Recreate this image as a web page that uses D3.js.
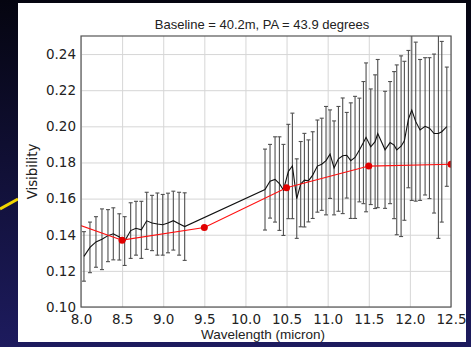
<!DOCTYPE html>
<html>
<head>
<meta charset="utf-8">
<script src="https://cdn.jsdelivr.net/npm/d3@7"></script>
<style>
  body { margin: 0; background: #0b0a22; }
  svg { display: block; }
</style>
</head>
<body>
<script>
// measured visibility spectrum (black line + error bars)
const wavelength = [
  8.036, 8.109, 8.182, 8.255, 8.328, 8.393, 8.466, 8.531, 8.604, 8.669,
  8.734, 8.799, 8.864, 8.929, 8.994, 9.058, 9.123, 9.193, 9.261,
  10.238, 10.299, 10.360, 10.413, 10.462, 10.522, 10.571, 10.624, 10.672, 10.717,
  10.766, 10.818, 10.875, 10.928, 10.980, 11.029, 11.078, 11.131, 11.183, 11.232,
  11.281, 11.333, 11.386, 11.435, 11.467, 11.524, 11.577, 11.609, 11.698, 11.759,
  11.808, 11.840, 11.893, 11.933, 11.982, 12.023, 12.071, 12.124, 12.185, 12.238,
  12.294, 12.347, 12.388, 12.449
];
const visibility = [
  0.128, 0.133, 0.136, 0.1375, 0.1395, 0.1405, 0.1388, 0.1365, 0.1423, 0.1436,
  0.1427, 0.1477, 0.1465, 0.1459, 0.1455, 0.1465, 0.1478, 0.1461, 0.1445,
  0.165, 0.1696, 0.1706, 0.1683, 0.1648, 0.175, 0.1781, 0.160, 0.168, 0.1702,
  0.1698, 0.173, 0.178, 0.179, 0.181, 0.1846, 0.177, 0.182, 0.1837, 0.184,
  0.181, 0.1828, 0.1869, 0.191, 0.1939, 0.1887, 0.1915, 0.196, 0.187, 0.191,
  0.1896, 0.187, 0.189, 0.192, 0.204, 0.209, 0.2026, 0.198, 0.200, 0.199,
  0.196, 0.196, 0.197, 0.1998
];
const visError = [
  0.0137, 0.014, 0.014, 0.0168, 0.0144, 0.0144, 0.0128, 0.0135, 0.0154, 0.0149,
  0.0158, 0.0158, 0.0153, 0.0172, 0.0168, 0.0165, 0.0163, 0.0174, 0.0187,
  0.0224, 0.0204, 0.0236, 0.0259, 0.0252, 0.0261, 0.0292, 0.022, 0.0236, 0.0259,
  0.0227, 0.024, 0.0255, 0.0255, 0.030, 0.0245, 0.026, 0.029, 0.032, 0.0237,
  0.032, 0.0338, 0.0287, 0.0338, 0.0412, 0.032, 0.037, 0.041, 0.0324, 0.0338,
  0.0407, 0.047, 0.050, 0.044, 0.038, 0.050, 0.044, 0.039, 0.038, 0.039,
  0.044, 0.058, 0.050, 0.033
];

// model (red line with dots)
const modelWl = [7.5, 8.5, 9.5, 10.5, 11.5, 12.5];
const modelVis = [0.153, 0.137, 0.144, 0.166, 0.178, 0.179];

const xTicks = [8.0, 8.5, 9.0, 9.5, 10.0, 10.5, 11.0, 11.5, 12.0, 12.5];
const yTicks = [0.10, 0.12, 0.14, 0.16, 0.18, 0.20, 0.22, 0.24];

const title = "Baseline = 40.2m, PA = 43.9 degrees";

function main() {
  const width = 471;
  const height = 347;
  const plot = { left: 81, right: 451, top: 36, bottom: 307 };

  const x = d3.scaleLinear().domain([8, 12.5]).range([plot.left, plot.right]);
  const y = d3.scaleLinear().domain([0.10, 0.25]).range([plot.bottom, plot.top]);

  const svg = d3.create("svg")
    .attr("width", width)
    .attr("height", height);

  // slide background
  const grad = svg.append("defs").append("linearGradient")
    .attr("id", "bg").attr("x1", 0).attr("y1", 0).attr("x2", 0).attr("y2", 1);
  grad.append("stop").attr("offset", "0%").attr("stop-color", "#050510");
  grad.append("stop").attr("offset", "100%").attr("stop-color", "#1d1b5e");
  svg.append("rect").attr("width", width).attr("height", height).attr("fill", "url(#bg)");

  svg.append("line")
    .attr("x1", 0).attr("y1", 209).attr("x2", 18).attr("y2", 199)
    .attr("stroke", "#f2d500").attr("stroke-width", 3);

  // white figure panel
  svg.append("rect")
    .attr("x", 18).attr("y", 3).attr("width", 448).attr("height", 339)
    .attr("fill", "white");

  // grid
  svg.append("g")
    .attr("transform", `translate(0,${plot.bottom})`)
    .call(d3.axisBottom(x).tickValues(xTicks).tickSize(-(plot.bottom - plot.top)).tickFormat(""))
    .call(g => g.select(".domain").remove())
    .call(g => g.selectAll("line").attr("stroke", "#d6d6d6"));
  svg.append("g")
    .attr("transform", `translate(${plot.left},0)`)
    .call(d3.axisLeft(y).tickValues(yTicks).tickSize(-(plot.right - plot.left)).tickFormat(""))
    .call(g => g.select(".domain").remove())
    .call(g => g.selectAll("line").attr("stroke", "#d6d6d6"));

  svg.append("clipPath").attr("id", "clip")
    .append("rect")
    .attr("x", plot.left).attr("y", plot.top)
    .attr("width", plot.right - plot.left).attr("height", plot.bottom - plot.top);
  const clipped = svg.append("g").attr("clip-path", "url(#clip)");

  const data = wavelength.map((w, i) => ({ w, v: visibility[i], e: visError[i] }));

  // error bars
  const bars = clipped.append("g")
    .attr("stroke", "#505050")
    .attr("stroke-width", 1.1)
    .selectAll("g")
    .data(data)
    .join("g");
  bars.append("line")
    .attr("x1", d => x(d.w)).attr("x2", d => x(d.w))
    .attr("y1", d => y(d.v - d.e)).attr("y2", d => y(d.v + d.e));
  bars.append("line")
    .attr("x1", d => x(d.w) - 2).attr("x2", d => x(d.w) + 2)
    .attr("y1", d => y(d.v + d.e)).attr("y2", d => y(d.v + d.e));
  bars.append("line")
    .attr("x1", d => x(d.w) - 2).attr("x2", d => x(d.w) + 2)
    .attr("y1", d => y(d.v - d.e)).attr("y2", d => y(d.v - d.e));

  const line = d3.line().x(d => x(d.w)).y(d => y(d.v));
  clipped.append("path")
    .attr("d", line(data))
    .attr("fill", "none")
    .attr("stroke", "#111")
    .attr("stroke-width", 1.1);

  const model = modelWl.map((w, i) => ({ w, v: modelVis[i] }));
  clipped.append("path")
    .attr("d", line(model))
    .attr("fill", "none")
    .attr("stroke", "#ff1010")
    .attr("stroke-width", 1.1);
  clipped.append("g")
    .selectAll("circle")
    .data(model)
    .join("circle")
    .attr("cx", d => x(d.w)).attr("cy", d => y(d.v))
    .attr("r", 3.5)
    .attr("fill", "#e00000");

  // frame
  svg.append("rect")
    .attr("x", plot.left).attr("y", plot.top)
    .attr("width", plot.right - plot.left).attr("height", plot.bottom - plot.top)
    .attr("fill", "none").attr("stroke", "#555").attr("stroke-width", 1.2);

  // tick labels
  const tickFont = "DejaVu Sans";
  svg.append("g")
    .attr("transform", `translate(0,${plot.bottom})`)
    .call(d3.axisBottom(x).tickValues(xTicks).tickSize(0).tickPadding(7).tickFormat(d3.format(".1f")))
    .call(g => g.select(".domain").remove())
    .call(g => g.selectAll("text").attr("font-family", tickFont).attr("font-size", 13.5).attr("fill", "#222"));
  svg.append("g")
    .attr("transform", `translate(${plot.left},0)`)
    .call(d3.axisLeft(y).tickValues(yTicks).tickSize(0).tickPadding(5).tickFormat(d3.format(".2f")))
    .call(g => g.select(".domain").remove())
    .call(g => g.selectAll("text").attr("font-family", tickFont).attr("font-size", 13.5).attr("fill", "#222"));

  svg.append("text")
    .attr("x", 262).attr("y", 29)
    .attr("text-anchor", "middle")
    .attr("font-family", "Liberation Sans")
    .attr("font-size", 13)
    .attr("fill", "#222")
    .text(title);

  svg.append("text")
    .attr("x", 263).attr("y", 339)
    .attr("text-anchor", "middle")
    .attr("font-family", "Liberation Sans")
    .attr("font-size", 13.5)
    .attr("fill", "#222")
    .text("Wavelength (micron)");

  svg.append("text")
    .attr("transform", `translate(37,${(plot.top + plot.bottom) / 2}) rotate(-90)`)
    .attr("text-anchor", "middle")
    .attr("font-family", tickFont)
    .attr("font-size", 13.3)
    .attr("fill", "#222")
    .text("Visibility");

  document.body.appendChild(svg.node());
}

main();
</script>
</body>
</html>
